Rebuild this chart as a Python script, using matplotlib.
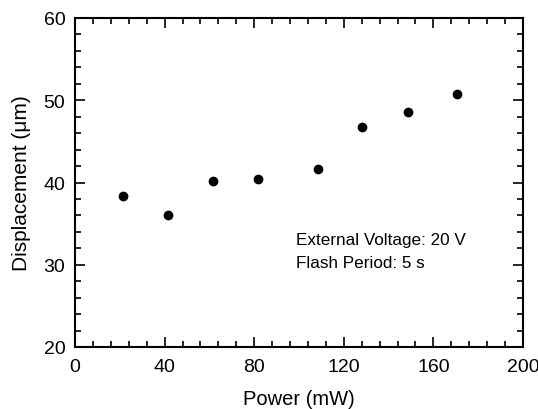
import matplotlib
matplotlib.use("Agg")
import matplotlib.pyplot as plt
from matplotlib.ticker import MultipleLocator

# data
power = [21.3, 41.4, 61.7, 81.6, 108.5, 128.0, 148.8, 170.7]
displacement = [38.3, 36.0, 40.2, 40.45, 41.7, 46.8, 48.6, 50.7]
note_lines = ["External Voltage: 20 V", "Flash Period: 5 s"]

plt.rcParams['font.family'] = ['Liberation Sans', 'DejaVu Sans']

fig = plt.figure(figsize=(5.38, 4.10), dpi=100)
ax = fig.add_axes([75 / 538, 1 - 348 / 410, 448 / 538, 329 / 410])

ax.plot(power, displacement, 'o', color='black', markersize=6)

ax.set_xlim(0, 200)
ax.set_ylim(20, 60)
ax.xaxis.set_major_locator(MultipleLocator(40))
ax.xaxis.set_minor_locator(MultipleLocator(8))
ax.yaxis.set_major_locator(MultipleLocator(10))
ax.yaxis.set_minor_locator(MultipleLocator(2))
ax.tick_params(which='both', direction='in', top=True, right=True, width=1.2)
ax.tick_params(which='major', length=7, labelsize=14)
ax.tick_params(axis='x', which='major', pad=8)
ax.tick_params(axis='y', which='major', pad=7)
ax.tick_params(which='minor', length=4)
for s in ax.spines.values():
    s.set_linewidth(1.5)

ax.set_xlabel('Power (mW)', fontsize=14.5, labelpad=10)
ax.set_ylabel('Displacement (\u03bcm)', fontsize=15, labelpad=9)

ax.text(98.5, 33.05, note_lines[0], fontsize=12.3, va='center', ha='left')
ax.text(98.5, 30.25, note_lines[1], fontsize=12.3, va='center', ha='left')

fig.savefig('out.png', dpi=100)
